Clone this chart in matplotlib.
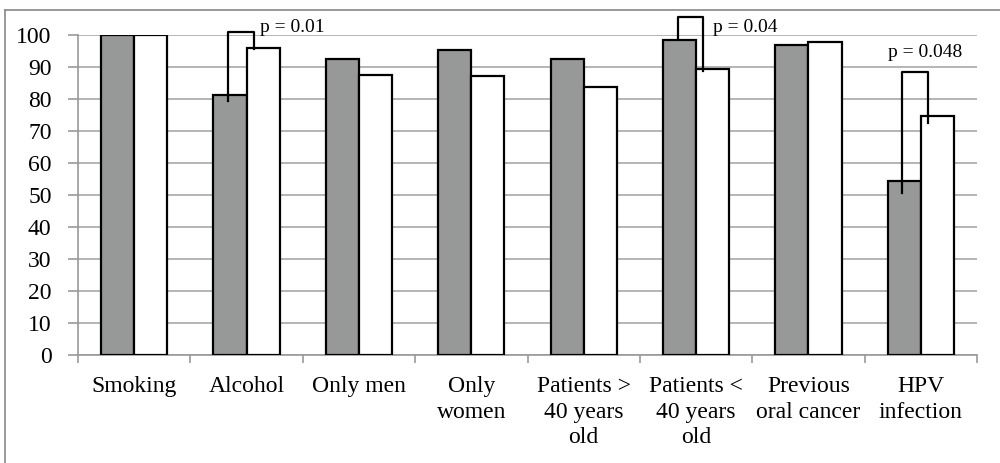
import matplotlib.pyplot as plt
import numpy as np

plt.rcParams['font.family'] = ['Liberation Serif', 'DejaVu Serif']

categories = ['Smoking', 'Alcohol', 'Only men', 'Only\nwomen',
              'Patients >\n40 years\nold', 'Patients <\n40 years\nold',
              'Previous\noral cancer', 'HPV\ninfection']
group_a = [100, 81.3, 92.5, 95.3, 92.4, 98.5, 96.9, 54.4]
group_b = [100, 96.0, 87.4, 87.3, 83.9, 89.3, 97.9, 74.6]

# significance brackets: category, bracket top, left leg end, right leg end, label
brackets = [
    (1, 101.0, 79.5, 95.6, 'p = 0.01'),
    (5, 105.5, 98.6, 88.8, 'p = 0.04'),
    (7, 88.4, 50.5, 72.6, 'p = 0.048'),
]

fig = plt.figure(figsize=(10, 4.63), dpi=100)
ax = fig.add_axes([0.078, 0.2333, 0.899, 0.6911])

x = np.arange(len(categories))
w = 0.295
ax.bar(x - w / 2, group_a, w, color='#969998', edgecolor='black', linewidth=1.6, zorder=3)
ax.bar(x + w / 2, group_b, w, color='white', edgecolor='black', linewidth=1.6, zorder=3)

ax.set_xlim(-0.5, len(categories) - 0.5)
ax.set_ylim(0, 100)
ax.set_yticks(range(0, 101, 10))
ax.yaxis.grid(True, color='#a8a8a8', linewidth=1.2, zorder=0)
ax.set_axisbelow(True)

ax.set_xticks(x)
ax.set_xticklabels(categories, fontsize=17, linespacing=1.3)
ax.set_xticks(np.arange(-0.5, len(categories)), minor=True)
ax.tick_params(axis='x', which='major', length=0, pad=15)
ax.tick_params(axis='x', which='minor', length=6, color='#999999', width=1.2)
ax.tick_params(axis='y', length=7, color='#999999', width=1.2, labelsize=17, pad=12)

for s in ['top', 'right']:
    ax.spines[s].set_visible(False)
for s in ['left', 'bottom']:
    ax.spines[s].set_color('#999999')
    ax.spines[s].set_linewidth(1.2)

for i, top, yl, yr, label in brackets:
    xl, xr = i - 0.165, i + 0.065
    ax.plot([xl, xl, xr, xr], [yl, top, top, yr], color='black',
            linewidth=1.6, clip_on=False, zorder=5)

ax.text(1.12, 102.5, 'p = 0.01', fontsize=14, va='center', ha='left')
ax.text(5.15, 102.3, 'p = 0.04', fontsize=14, va='center', ha='left')
ax.text(7.04, 94.4, 'p = 0.048', fontsize=14, va='center', ha='center')

# outer frame around the chart
fig.add_artist(plt.Line2D([0.005, 0.005], [0, 0.978], color='#888888', linewidth=1.2))
fig.add_artist(plt.Line2D([0.005, 1.0], [0.978, 0.978], color='#888888', linewidth=1.2))

fig.savefig('out.png', dpi=100)
